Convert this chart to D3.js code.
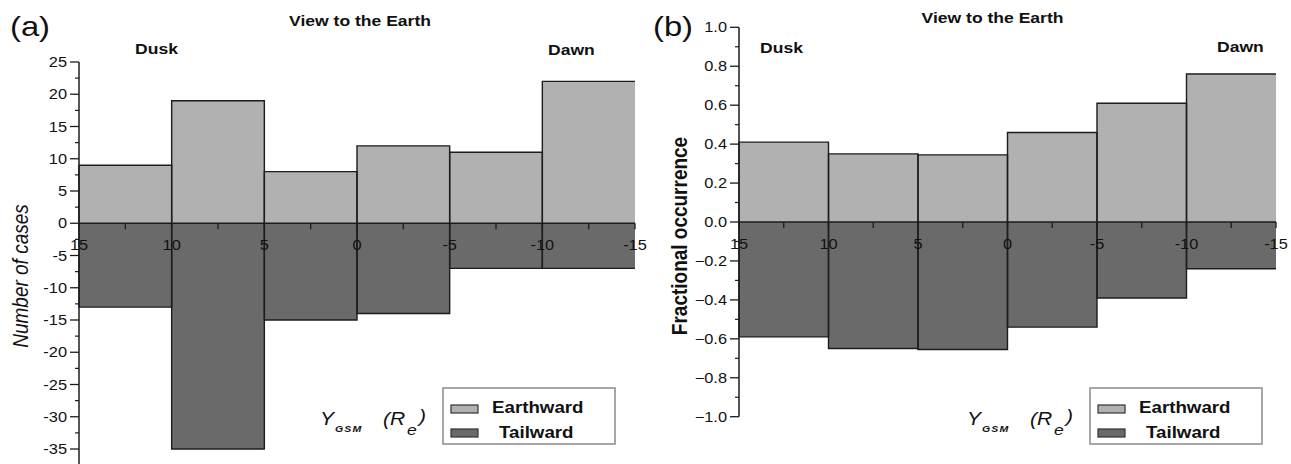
<!DOCTYPE html>
<html>
<head>
<meta charset="utf-8">
<script src="https://cdn.jsdelivr.net/npm/d3@7"></script>
<style>
  html, body { margin: 0; padding: 0; background: #fff; }
  svg { display: block; font-family: "Liberation Sans", Arial, sans-serif; }
</style>
</head>
<body>
<svg id="chart" width="1291" height="464"></svg>
<script>
// ---------- DATA ----------
const binEdges = [15, 10, 5, 0, -5, -10, -15];
const xTickLabels = ["15", "10", "5", "0", "-5", "-10", "-15"];
const xMinorTicks = [12.5, 7.5, 2.5, -2.5, -7.5, -12.5];

const earthwardCases = [9, 19, 8, 12, 11, 22];
const tailwardCases = [-13, -35, -15, -14, -7, -7];

const earthwardFraction = [0.41, 0.35, 0.345, 0.46, 0.61, 0.76];
const tailwardFraction = [-0.59, -0.65, -0.655, -0.54, -0.39, -0.24];

const yTicksCases = [25, 20, 15, 10, 5, 0, -5, -10, -15, -20, -25, -30, -35];
const yTicksFraction = [1.0, 0.8, 0.6, 0.4, 0.2, 0.0, -0.2, -0.4, -0.6, -0.8, -1.0];

const seriesNames = ["Earthward", "Tailward"];
const panelLabels = ["(a)", "(b)"];
const titleText = "View to the Earth";
const yTitles = ["Number of cases", "Fractional occurrence"];

// ---------- STYLE ----------
const SX = 1.17;               // horizontal stretch of the reference
const earthFill = "#b1b1b1";
const tailFill = "#6a6a6a";
const edgeColor = "#1c1c1c";
const ink = "#111";

const svg = d3.select("#chart");

function txt(g, x, y, s, o = {}) {
  const t = g.append("text")
    .attr("transform", `translate(${x},${y}) scale(${SX},1)` + (o.rot ? " rotate(-90)" : ""))
    .attr("text-anchor", o.anchor || "start")
    .attr("font-size", o.size || 14)
    .attr("font-weight", o.bold ? "bold" : "normal")
    .attr("font-style", o.italic ? "italic" : "normal")
    .attr("fill", ink)
    .text(s);
  if (o.dy) t.attr("dy", o.dy);
  if (o.ls) t.attr("letter-spacing", o.ls);
  return t;
}

function panel(cfg) {
  const g = svg.append("g");
  const x = d3.scaleLinear().domain([15, -15]).range(cfg.xRange);
  const y = d3.scaleLinear().domain(cfg.yDomain).range(cfg.yRange);
  const y0 = y(0);
  const n = cfg.earth.length;

  const bins = d3.range(n).map(i => ({
    x0: binEdges[i], x1: binEdges[i + 1], e: cfg.earth[i], t: cfg.tail[i], last: i === n - 1
  }));

  // fills
  g.selectAll(".ef").data(bins).join("rect")
    .attr("x", d => x(d.x0)).attr("width", d => x(d.x1) - x(d.x0))
    .attr("y", d => y(d.e)).attr("height", d => y0 - y(d.e))
    .attr("fill", earthFill);
  g.selectAll(".tf").data(bins).join("rect")
    .attr("x", d => x(d.x0)).attr("width", d => x(d.x1) - x(d.x0))
    .attr("y", y0).attr("height", d => y(d.t) - y0)
    .attr("fill", tailFill);

  // outlines
  const outline = (d, v) => {
    let p = `M${x(d.x0)},${y0}V${y(v)}H${x(d.x1)}`;
    if (!d.last) p += `V${y0}`;
    return p;
  };
  g.selectAll(".eo").data(bins).join("path")
    .attr("d", d => outline(d, d.e)).attr("fill", "none")
    .attr("stroke", edgeColor).attr("stroke-width", 1.4);
  g.selectAll(".to").data(bins).join("path")
    .attr("d", d => outline(d, d.t)).attr("fill", "none")
    .attr("stroke", edgeColor).attr("stroke-width", 1.4);

  // zero line (x axis)
  g.append("line").attr("x1", x(15)).attr("x2", x(-15)).attr("y1", y0).attr("y2", y0)
    .attr("stroke", edgeColor).attr("stroke-width", 1.6);
  // x ticks (downward)
  g.selectAll(".xt").data(binEdges.concat(xMinorTicks)).join("line")
    .attr("x1", d => x(d)).attr("x2", d => x(d))
    .attr("y1", y0).attr("y2", y0 + 6)
    .attr("stroke", edgeColor).attr("stroke-width", 1.3);
  // x tick labels
  binEdges.forEach((v, i) => {
    txt(g, x(v), y0 + cfg.xLabelOff, xTickLabels[i], { anchor: "middle", size: 14 });
  });

  // y axis
  g.append("line").attr("x1", cfg.xRange[0]).attr("x2", cfg.xRange[0])
    .attr("y1", y(cfg.yDomain[1])).attr("y2", cfg.yAxisBottom)
    .attr("stroke", edgeColor).attr("stroke-width", 1.5);
  const ax = cfg.xRange[0];
  g.selectAll(".ytM").data(cfg.yTicks).join("line")
    .attr("x1", ax - 9).attr("x2", ax).attr("y1", d => y(d)).attr("y2", d => y(d))
    .attr("stroke", edgeColor).attr("stroke-width", 1.3);
  g.selectAll(".ytm").data(cfg.yMinor).join("line")
    .attr("x1", ax - 4).attr("x2", ax).attr("y1", d => y(d)).attr("y2", d => y(d))
    .attr("stroke", edgeColor).attr("stroke-width", 1.2);
  cfg.yTicks.forEach(v => {
    txt(g, ax - 12, y(v), cfg.yFmt(v), { anchor: "end", size: 14, dy: "0.36em" });
  });

  // y title
  txt(g, cfg.yTitlePos[0], cfg.yTitlePos[1], cfg.yTitle,
    { rot: true, anchor: "middle", size: cfg.yTitleSize, italic: cfg.yTitleItalic, bold: cfg.yTitleBold });

  // panel label, title, dusk/dawn
  txt(g, cfg.panelPos[0], cfg.panelPos[1], cfg.panelLabel, { size: 28 });
  txt(g, cfg.titlePos[0], cfg.titlePos[1], titleText, { anchor: "middle", size: 15, bold: true });
  txt(g, cfg.duskPos[0], cfg.duskPos[1], "Dusk", { size: 15, bold: true });
  txt(g, cfg.dawnPos[0], cfg.dawnPos[1], "Dawn", { size: 15, bold: true });

  // x-axis label  Y_GSM (R_e)
  const lx = cfg.axLabelX, ly = 425;
  txt(g, lx, ly, "Y", { size: 18, italic: true });
  txt(g, lx + 15, ly + 7, "GSM", { size: 9, italic: true, bold: true, ls: 1 });
  txt(g, lx + 63, ly, "(R", { size: 18, italic: true });
  txt(g, lx + 87, ly + 10, "e", { size: 15, italic: true });
  txt(g, lx + 99, ly - 3, ")", { size: 18, italic: true });

  // legend
  const L = cfg.legendX;
  g.append("rect").attr("x", L).attr("y", 388).attr("width", 172).attr("height", 56)
    .attr("fill", "#fff").attr("stroke", "#8a8a8a").attr("stroke-width", 1.5);
  const swatches = [{ name: seriesNames[0], fill: earthFill, y: 405, tx: 49, ty: 413 },
                    { name: seriesNames[1], fill: tailFill, y: 429, tx: 56, ty: 438 }];
  swatches.forEach(s => {
    g.append("rect").attr("x", L + 8).attr("y", s.y).attr("width", 27).attr("height", 8)
      .attr("fill", s.fill).attr("stroke", "#333").attr("stroke-width", 1.2);
    txt(g, L + s.tx, s.ty, s.name, { size: 16, bold: true });
  });
}

panel({
  xRange: [79, 635], yDomain: [-35, 25], yRange: [449, 62], yAxisBottom: 464,
  earth: earthwardCases, tail: tailwardCases,
  yTicks: yTicksCases, yMinor: d3.range(-35, 25, 2.5).filter(v => v % 5 !== 0).concat([-37.5]),
  yFmt: v => String(v), xLabelOff: 27,
  yTitle: yTitles[0], yTitlePos: [28, 276], yTitleSize: 19, yTitleItalic: true, yTitleBold: false,
  panelLabel: panelLabels[0], panelPos: [10, 36],
  titlePos: [360, 26], duskPos: [135, 54], dawnPos: [548, 55],
  axLabelX: 320, legendX: 443
});

panel({
  xRange: [739, 1276], yDomain: [-1, 1], yRange: [416.7, 27.3], yAxisBottom: 416.7,
  earth: earthwardFraction, tail: tailwardFraction,
  yTicks: yTicksFraction, yMinor: d3.range(-9, 10, 2).map(v => v / 10),
  yFmt: d3.format(".1f"), xLabelOff: 26.5,
  yTitle: yTitles[1], yTitlePos: [686.5, 236], yTitleSize: 19, yTitleItalic: false, yTitleBold: true,
  panelLabel: panelLabels[1], panelPos: [653, 36],
  titlePos: [992.5, 23], duskPos: [760, 53], dawnPos: [1217, 52],
  axLabelX: 967, legendX: 1090
});
</script>
</body>
</html>
